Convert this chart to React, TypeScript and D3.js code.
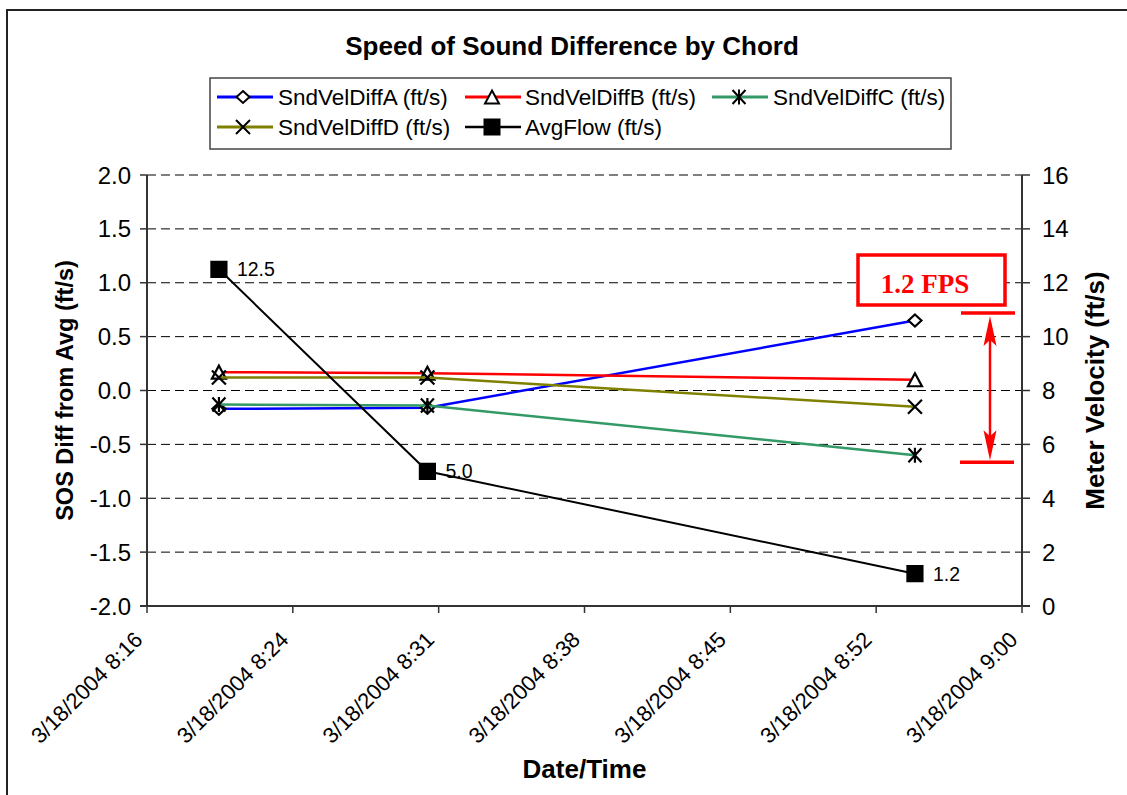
import React from "react";
import * as d3 from "d3";

// ---------- data ----------
const parseT = d3.timeParse("%Y-%m-%dT%H:%M:%S");
const sampleTimes = ["2004-03-18T08:19:37", "2004-03-18T08:30:06", "2004-03-18T08:54:37"];
const sndVelDiffA = [-0.17, -0.16, 0.65];
const sndVelDiffB = [0.17, 0.16, 0.1];
const sndVelDiffC = [-0.13, -0.14, -0.6];
const sndVelDiffD = [0.12, 0.12, -0.15];
const avgFlow = [12.5, 5.0, 1.2];
const avgFlowLabels = ["12.5", "5.0", "1.2"];

const leftTicks = [-2, -1.5, -1, -0.5, 0, 0.5, 1, 1.5, 2];
const rightTicks = [0, 2, 4, 6, 8, 10, 12, 14, 16];
const xTickLabels = [
  "3/18/2004 8:16",
  "3/18/2004 8:24",
  "3/18/2004 8:31",
  "3/18/2004 8:38",
  "3/18/2004 8:45",
  "3/18/2004 8:52",
  "3/18/2004 9:00",
];
const xStart = "2004-03-18T08:16:00";
const xEnd = "2004-03-18T09:00:00";

const seriesNames = ["SndVelDiffA (ft/s)", "SndVelDiffB (ft/s)", "SndVelDiffC (ft/s)", "SndVelDiffD (ft/s)", "AvgFlow (ft/s)"];
const annotationText = "1.2 FPS";
// annotation span in left-axis units
const annTop = 0.72;
const annBottom = -0.665;

// ---------- layout ----------
const W = 1127, H = 795;
const PL = 147, PR = 1022, PT = 175, PB = 606;
const SANS = "'Liberation Sans', Arial, sans-serif";
const SERIF = "'Liberation Serif', 'Times New Roman', serif";

const markers: Record<string, { d: string; fill: string }> = {
  diamond: { d: "M0,-6L6.5,0L0,6L-6.5,0Z", fill: "#fff" },
  triangle: { d: "M0,-6.5L7,6.5L-7,6.5Z", fill: "#fff" },
  asterisk: { d: "M-6.5,-7L6.5,7M-6.5,7L6.5,-7M0,-7.5V7.5", fill: "none" },
  cross: { d: "M-7,-7L7,7M-7,7L7,-7", fill: "none" },
  square: { d: "M-7.5,-7.5H7.5V7.5H-7.5Z", fill: "#000" },
};

const fmt = (v: number) => v.toFixed(1);

export default function App() {
  const t0 = parseT(xStart)!;
  const t1 = parseT(xEnd)!;
  const times = sampleTimes.map((s) => parseT(s)!);
  const x = d3.scaleTime().domain([t0, t1]).range([PL, PR]);
  const yL = d3.scaleLinear().domain([-2, 2]).range([PB, PT]);
  const yR = d3.scaleLinear().domain([0, 16]).range([PB, PT]);
  const xTicks = d3.range(xTickLabels.length).map(
    (i) => new Date(+t0 + ((+t1 - +t0) * i) / (xTickLabels.length - 1))
  );

  const series = [
    { name: seriesNames[0], vals: sndVelDiffA, color: "#0000FF", marker: "diamond", y: yL, w: 2.5 },
    { name: seriesNames[1], vals: sndVelDiffB, color: "#FF0000", marker: "triangle", y: yL, w: 2.5 },
    { name: seriesNames[2], vals: sndVelDiffC, color: "#339966", marker: "asterisk", y: yL, w: 2.5 },
    { name: seriesNames[3], vals: sndVelDiffD, color: "#808000", marker: "cross", y: yL, w: 2.5 },
    { name: seriesNames[4], vals: avgFlow, color: "#000000", marker: "square", y: yR, w: 2 },
  ];

  const legendPos = [
    { lx: 217, mx: 243, tx: 278, y: 97 },
    { lx: 465, mx: 492, tx: 525, y: 97 },
    { lx: 712, mx: 739, tx: 773, y: 97 },
    { lx: 217, mx: 243, tx: 278, y: 127 },
    { lx: 465, mx: 492, tx: 525, y: 127 },
  ];

  const arrowX = 990;
  const aTop = yL(annTop);
  const aBot = yL(annBottom);
  const plotMidX = (PL + PR) / 2;
  const plotMidY = (PT + PB) / 2;

  return (
    <svg width={W} height={H} style={{ position: "absolute", left: 0, top: 0, background: "#fff" }} fontFamily={SANS}>
      <rect x={0} y={0} width={W} height={H} fill="#fff" />
      {/* outer frame */}
      <path d={`M7,${H + 5}V10H${W + 5}`} fill="none" stroke="#222" strokeWidth={2} />

      {/* title */}
      <text x={572} y={55} textAnchor="middle" fontWeight="bold" fontSize={26}>
        Speed of Sound Difference by Chord
      </text>

      {/* legend */}
      <rect x={210} y={78} width={741} height={71} fill="#fff" stroke="#444" strokeWidth={1.5} />
      {series.map((s, i) => {
        const p = legendPos[i];
        const m = markers[s.marker];
        return (
          <g key={"lg" + i}>
            <line x1={p.lx} x2={p.lx + 56} y1={p.y} y2={p.y} stroke={s.color} strokeWidth={s.w + 0.5} />
            <path d={m.d} transform={`translate(${p.mx},${p.y})`} fill={m.fill} stroke="#000" strokeWidth={2} />
            <text x={p.tx} y={p.y + 8} fontSize={22.5}>
              {s.name}
            </text>
          </g>
        );
      })}

      {/* gridlines */}
      {leftTicks.filter((v) => v > -2).map((v) => (
        <line key={"g" + v} x1={PL} x2={PR} y1={yL(v)} y2={yL(v)} stroke="#000" strokeWidth={1} strokeDasharray="9 5" />
      ))}

      {/* axes */}
      <line x1={PL} x2={PL} y1={PT} y2={PB} stroke="#333" strokeWidth={2} />
      <line x1={PR} x2={PR} y1={PT} y2={PB} stroke="#333" strokeWidth={2} />
      <line x1={PL - 7} x2={PR + 8} y1={PB} y2={PB} stroke="#333" strokeWidth={2} />
      {leftTicks.map((v) => (
        <g key={"lt" + v}>
          <line x1={PL - 7} x2={PL} y1={yL(v)} y2={yL(v)} stroke="#333" strokeWidth={1.5} />
          <text x={131} y={yL(v) + 8.5} textAnchor="end" fontSize={24}>
            {fmt(v)}
          </text>
        </g>
      ))}
      {rightTicks.map((v) => (
        <g key={"rt" + v}>
          <line x1={PR} x2={PR + 8} y1={yR(v)} y2={yR(v)} stroke="#333" strokeWidth={1.5} />
          <text x={1042} y={yR(v) + 8.5} textAnchor="start" fontSize={24}>
            {v}
          </text>
        </g>
      ))}
      {xTicks.map((t, i) => (
        <g key={"xt" + i}>
          <line x1={x(t)} x2={x(t)} y1={PB} y2={PB + 7} stroke="#333" strokeWidth={1.5} />
          <text
            transform={`translate(${x(t) - 3},${PB + 35}) rotate(-45)`}
            textAnchor="end"
            fontSize={22}
          >
            {xTickLabels[i]}
          </text>
        </g>
      ))}

      {/* axis titles */}
      <text transform={`translate(73,${plotMidY}) rotate(-90)`} textAnchor="middle" fontWeight="bold" fontSize={23.5}>
        SOS Diff from Avg (ft/s)
      </text>
      <text transform={`translate(1104,${plotMidY}) rotate(-90)`} textAnchor="middle" fontWeight="bold" fontSize={26}>
        Meter Velocity (ft/s)
      </text>
      <text x={plotMidX} y={778} textAnchor="middle" fontWeight="bold" fontSize={26}>
        Date/Time
      </text>

      {/* series */}
      {series.map((s, i) => {
        const line = d3
          .line<number>()
          .x((_, j) => x(times[j]))
          .y((v) => s.y(v));
        const m = markers[s.marker];
        return (
          <g key={"s" + i}>
            <path d={line(s.vals) || ""} fill="none" stroke={s.color} strokeWidth={s.w} />
            {s.vals.map((v, j) => (
              <path
                key={j}
                d={m.d}
                transform={`translate(${x(times[j])},${s.y(v)})`}
                fill={m.fill}
                stroke="#000"
                strokeWidth={2.2}
              />
            ))}
          </g>
        );
      })}
      {/* data labels */}
      {avgFlow.map((v, j) => (
        <text key={"dl" + j} x={x(times[j]) + 18} y={yR(v) + 7} fontSize={19.5}>
          {avgFlowLabels[j]}
        </text>
      ))}

      {/* annotation */}
      <rect x={858} y={255} width={147} height={50} fill="#fff" stroke="#FF0000" strokeWidth={3.5} />
      <text x={925} y={293} textAnchor="middle" fontFamily={SERIF} fontWeight="bold" fontSize={27} fill="#FF0000">
        {annotationText}
      </text>
      <line x1={961} x2={1015} y1={aTop} y2={aTop} stroke="#FF0000" strokeWidth={3.5} />
      <line x1={960} x2={1014} y1={aBot} y2={aBot} stroke="#FF0000" strokeWidth={3.5} />
      <line x1={arrowX} x2={arrowX} y1={aTop + 10} y2={aBot - 10} stroke="#FF0000" strokeWidth={2.5} />
      <path
        d={`M${arrowX},${aTop + 3}L${arrowX + 6.5},${aTop + 33}L${arrowX},${aTop + 27}L${arrowX - 6.5},${aTop + 33}Z`}
        fill="#FF0000"
      />
      <path
        d={`M${arrowX},${aBot - 2}L${arrowX + 6.5},${aBot - 32}L${arrowX},${aBot - 26}L${arrowX - 6.5},${aBot - 32}Z`}
        fill="#FF0000"
      />
    </svg>
  );
}
